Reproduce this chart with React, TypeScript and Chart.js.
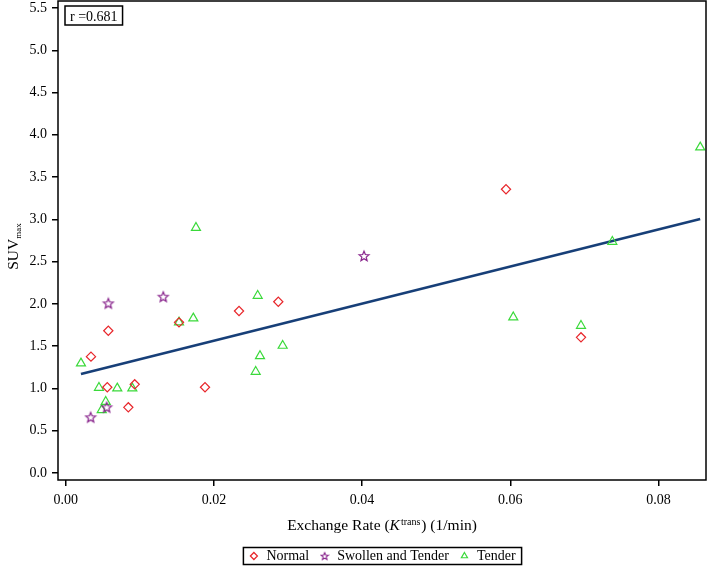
import React, { useEffect, useRef } from "react";
import { Chart, registerables } from "chart.js";

Chart.register(...registerables);

// ---- Data ----
const normalX = [0.00341, 0.00561, 0.00575, 0.00845, 0.00931, 0.01529, 0.0188, 0.02339, 0.02869, 0.05942, 0.06954];
const normalY = [1.376, 1.014, 1.683, 0.777, 1.049, 1.782, 1.014, 1.916, 2.026, 3.356, 1.605];

const swollenX = [0.00337, 0.00553, 0.00575, 0.01317, 0.04026];
const swollenY = [0.659, 0.777, 2.007, 2.085, 2.567];

const tenderX = [0.00206, 0.00449, 0.00486, 0.0054, 0.00696, 0.00899, 0.01529, 0.01722, 0.01758, 0.02564, 0.02591, 0.02622, 0.02928, 0.0604, 0.06954, 0.07377, 0.08563];
const tenderY = [1.297, 1.009, 0.745, 0.843, 1.002, 1.002, 1.782, 1.83, 2.901, 1.198, 2.097, 1.384, 1.506, 1.842, 1.742, 2.736, 3.852];

const seriesLabels = ["Normal", "Swollen and Tender", "Tender"];
const fitIntercept = 1.127;
const fitSlope = 21.92;
const rLabel = "r =0.681";

const xTickValues = [0, 0.02, 0.04, 0.06, 0.08];
const yTickValues = [0, 0.5, 1, 1.5, 2, 2.5, 3, 3.5, 4, 4.5, 5, 5.5];

const xTitleBefore = "Exchange Rate (";
const xTitleItalic = "K";
const xTitleSup = "trans";
const xTitleAfter = ") (1/min)";
const yTitleMain = "SUV";
const yTitleSub = "max";

const FONT = '"Liberation Serif", "Times New Roman", serif';
const RED = "#e8262b";
const PURPLE = "#86208a";
const GREEN = "#3ad93a";
const NAVY = "#173f78";

function makeStar(color: string, size: number, outer: number, inner: number, lw: number) {
  const c = document.createElement("canvas");
  c.width = size;
  c.height = size;
  const g = c.getContext("2d")!;
  g.strokeStyle = color;
  g.lineWidth = lw;
  g.lineJoin = "miter";
  g.beginPath();
  const cx = size / 2, cy = size / 2 + 0.4;
  for (let i = 0; i < 10; i++) {
    const r = i % 2 === 0 ? outer : inner;
    const a = -Math.PI / 2 + (i * Math.PI) / 5;
    const px = cx + r * Math.cos(a);
    const py = cy + r * Math.sin(a);
    if (i === 0) g.moveTo(px, py);
    else g.lineTo(px, py);
  }
  g.closePath();
  g.stroke();
  return c;
}

function zip(xs: number[], ys: number[]) {
  return xs.map((x, i) => ({ x, y: ys[i] }));
}

const decorPlugin = {
  id: "decor",
  afterDraw(chart: any) {
    const { ctx, chartArea: a } = chart;
    ctx.save();
    // frame
    ctx.strokeStyle = "#000";
    ctx.lineWidth = 1.5;
    ctx.strokeRect(a.left, a.top, a.right - a.left, a.bottom - a.top);

    // r annotation
    ctx.font = `14px ${FONT}`;
    const tw = ctx.measureText(rLabel).width;
    const bx = a.left + 7, by = a.top + 5, bw = tw + 10, bh = 19;
    ctx.lineWidth = 1.5;
    ctx.strokeRect(bx, by, bw, bh);
    ctx.fillStyle = "#000";
    ctx.textBaseline = "alphabetic";
    ctx.textAlign = "left";
    ctx.fillText(rLabel, bx + 5, by + 14.5);

    // x title
    const fMain = `15.5px ${FONT}`;
    const fItal = `italic 15.5px ${FONT}`;
    const fSmall = `10px ${FONT}`;
    ctx.font = fMain;
    const w1 = ctx.measureText(xTitleBefore).width;
    const w4 = ctx.measureText(xTitleAfter).width;
    ctx.font = fItal;
    const w2 = ctx.measureText(xTitleItalic).width + 1;
    ctx.font = fSmall;
    const w3 = ctx.measureText(xTitleSup).width + 1;
    const total = w1 + w2 + w3 + w4;
    let x = (a.left + a.right) / 2 - total / 2;
    const yb = a.bottom + 50;
    ctx.font = fMain;
    ctx.fillText(xTitleBefore, x, yb);
    x += w1;
    ctx.font = fItal;
    ctx.fillText(xTitleItalic, x, yb);
    x += w2;
    ctx.font = fSmall;
    ctx.fillText(xTitleSup, x, yb - 5);
    x += w3;
    ctx.font = fMain;
    ctx.fillText(xTitleAfter, x, yb);

    // y title
    ctx.font = fMain;
    const s1 = ctx.measureText(yTitleMain).width;
    ctx.font = `9px ${FONT}`;
    const s2 = ctx.measureText(yTitleSub).width;
    const yc = (a.top + a.bottom) / 2 + 6;
    ctx.translate(18, yc);
    ctx.rotate(-Math.PI / 2);
    const st = -(s1 + s2) / 2;
    ctx.font = fMain;
    ctx.fillText(yTitleMain, st, 0);
    ctx.font = `9px ${FONT}`;
    ctx.fillText(yTitleSub, st + s1, 3);
    ctx.setTransform(1, 0, 0, 1, 0, 0);

    // legend border
    const lg = chart.legend;
    if (lg && lg.legendHitBoxes && lg.legendHitBoxes.length) {
      const hb = lg.legendHitBoxes;
      let l = Infinity, r = -Infinity, t = Infinity, b = -Infinity;
      hb.forEach((h: any) => {
        l = Math.min(l, h.left);
        r = Math.max(r, h.left + h.width);
        t = Math.min(t, h.top);
        b = Math.max(b, h.top + h.height);
      });
      ctx.strokeStyle = "#000";
      ctx.lineWidth = 1.5;
      ctx.strokeRect(l - 5, t - 1.5, r - l + 11, b - t + 3);
    }
    ctx.restore();
  },
};

export default function App() {
  const ref = useRef<HTMLCanvasElement | null>(null);

  useEffect(() => {
    if (!ref.current) return;
    const starPt = makeStar(PURPLE, 14, 5.2, 2.3, 1.2);
    const starLegend = makeStar(PURPLE, 10, 3.8, 1.7, 1.1);

    const allX = [...normalX, ...swollenX, ...tenderX];
    const xMinData = Math.min(...allX);
    const xMaxData = Math.max(...allX);
    const fitLine = [xMinData, xMaxData].map((x) => ({ x, y: fitIntercept + fitSlope * x }));

    const chart = new Chart(ref.current, {
      type: "scatter",
      data: {
        datasets: [
          {
            label: seriesLabels[0],
            data: zip(normalX, normalY),
            pointStyle: "rectRot",
            pointRadius: 4.6,
            borderColor: RED,
            backgroundColor: "rgba(0,0,0,0)",
            borderWidth: 1.2,
          },
          {
            label: seriesLabels[1],
            data: zip(swollenX, swollenY),
            pointStyle: starPt as any,
            pointRadius: 5,
            borderColor: PURPLE,
            backgroundColor: "rgba(0,0,0,0)",
            borderWidth: 1.2,
          },
          {
            label: seriesLabels[2],
            data: zip(tenderX, tenderY),
            pointStyle: "triangle",
            pointRadius: 5.2,
            borderColor: GREEN,
            backgroundColor: "rgba(0,0,0,0)",
            borderWidth: 1.2,
          },
          {
            label: "fit",
            data: fitLine,
            showLine: true,
            pointRadius: 0,
            borderColor: NAVY,
            borderWidth: 2.6,
            backgroundColor: NAVY,
          } as any,
        ],
      },
      options: {
        animation: false,
        responsive: false,
        devicePixelRatio: 1,
        layout: { autoPadding: false, padding: { top: 1, right: 3, left: 0, bottom: 0 } },
        plugins: {
          tooltip: { enabled: false },
          legend: {
            position: "bottom",
            fullSize: false,
            maxHeight: 27,
            labels: {
              usePointStyle: true,
              boxWidth: 11,
              boxHeight: 5,
              padding: 10,
              color: "#000",
              font: { family: FONT, size: 14 },
              filter: (item: any) => item.datasetIndex < 3,
              generateLabels: (chart: any) => {
                const items = Chart.defaults.plugins.legend.labels.generateLabels(chart);
                return items.map((it: any) =>
                  it.datasetIndex === 1 ? { ...it, pointStyle: starLegend } : it
                );
              },
            },
          },
        },
        scales: {
          x: {
            type: "linear",
            min: -0.00104,
            max: 0.08641,
            afterFit: (s: any) => {
              s.height = 59;
              s.paddingLeft = 0;
              s.paddingRight = 0;
              s.paddingTop = 0;
              s.paddingBottom = 0;
            },
            afterBuildTicks: (s: any) => {
              s.ticks = xTickValues.map((v) => ({ value: v }));
            },
            ticks: {
              callback: (v: any) => Number(v).toFixed(2),
              font: { family: FONT, size: 14 },
              color: "#000",
              padding: 6,
              maxRotation: 0,
              autoSkip: false,
            },
            grid: {
              display: true,
              drawOnChartArea: false,
              drawTicks: true,
              tickLength: 6,
              color: "#000",
              lineWidth: 1.5,
            },
            border: { display: false },
          },
          y: {
            type: "linear",
            min: -0.0828,
            max: 5.5828,
            afterFit: (s: any) => {
              s.width = 58;
              s.paddingLeft = 0;
              s.paddingRight = 0;
              s.paddingTop = 0;
              s.paddingBottom = 0;
            },
            afterBuildTicks: (s: any) => {
              s.ticks = yTickValues.map((v) => ({ value: v }));
            },
            ticks: {
              callback: (v: any) => Number(v).toFixed(1),
              font: { family: FONT, size: 14 },
              color: "#000",
              padding: 5,
              autoSkip: false,
            },
            grid: {
              display: true,
              drawOnChartArea: false,
              drawTicks: true,
              tickLength: 6,
              color: "#000",
              lineWidth: 1.5,
            },
            border: { display: false },
          },
        },
      },
      plugins: [decorPlugin],
    } as any);
    return () => chart.destroy();
  }, []);

  return (
    <div style={{ position: "absolute", left: 0, top: 0, width: 709, height: 566, background: "#fff" }}>
      <canvas ref={ref} width={709} height={566} style={{ display: "block" }} />
    </div>
  );
}
